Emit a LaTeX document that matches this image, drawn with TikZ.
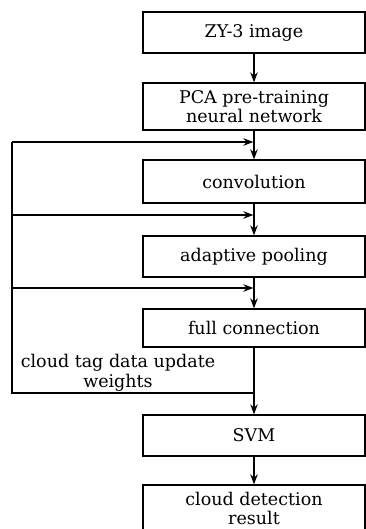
\documentclass[tikz,border=0pt]{standalone}
\usepackage{fontspec}
\setmainfont{DejaVu Serif}
\usetikzlibrary{arrows.meta}
\begin{document}
\begin{tikzpicture}[x=1pt,y=1pt,
  box/.style={draw, line width=1.3pt, minimum width=222pt, inner sep=0pt, align=center, font=\fontsize{17.5}{19.5}\selectfont},
  arr/.style={-{Stealth[length=10pt,width=7.5pt]}, line width=1.3pt},
  ln/.style={line width=1.3pt},
  lbl/.style={align=center, inner sep=0pt, font=\fontsize{17.5}{20.5}\selectfont}]
\useasboundingbox (0,0) rectangle (366,-529);
\clip (0,0) rectangle (366,-529);
\fill[white] (0,0) rectangle (366,-529);
\node[box, minimum height=41pt] (zy) at (254,-32.5) {ZY-3 image};
\node[box, minimum height=47pt] (pca) at (254,-106.5) {PCA pre-training\\neural network};
\node[box, minimum height=43pt] (conv) at (254,-181.5) {convolution};
\node[box, minimum height=41pt] (pool) at (254,-256.5) {adaptive pooling};
\node[box, minimum height=38pt] (full) at (254,-328) {full connection};
\node[box, minimum height=41pt] (svm) at (254,-435.5) {SVM};
\node[box, minimum height=47pt] (res) at (254,-508.5) {cloud detection\\result};
\coordinate (j1) at (254,-142);
\coordinate (j2) at (254,-215);
\coordinate (j3) at (254,-288);
\coordinate (j0) at (254,-393);
\coordinate (l1) at (12,-142);
\coordinate (l2) at (12,-215);
\coordinate (l3) at (12,-288);
\coordinate (l0) at (12,-393);
\draw[arr] (zy) -- (pca);
\draw[arr] (pca) -- (conv);
\draw[arr] (conv) -- (pool);
\draw[arr] (pool) -- (full);
\draw[arr] (full) -- (svm);
\draw[arr] (svm) -- (res);
\draw[ln] (j0) -- (l0) -- (l1);
\draw[arr, shorten >=0.65pt] (l1) -- (j1);
\draw[arr, shorten >=0.65pt] (l2) -- (j2);
\draw[arr, shorten >=0.65pt] (l3) -- (j3);
\node[lbl] (tag) at (118,-373) {cloud tag data update\\weights};
\end{tikzpicture}
\end{document}
